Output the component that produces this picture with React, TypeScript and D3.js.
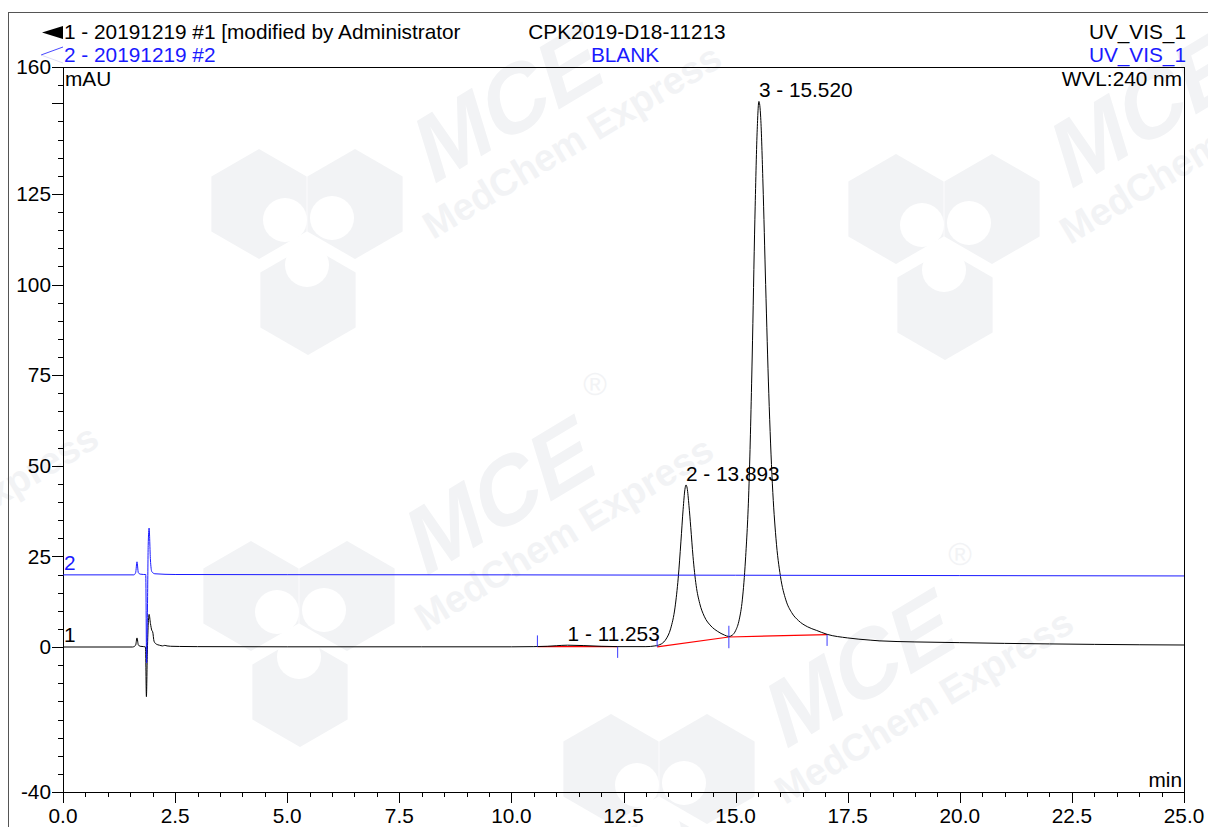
import React from "react";
import * as d3 from "d3";

// ---------- data ----------
const series1Time = [0, 1.55, 1.62, 1.65, 1.68, 1.72, 1.8, 1.84, 1.86, 1.88, 1.9, 1.92, 1.95, 1.98, 2.0, 2.03, 2.08, 2.15, 2.22, 2.27, 2.32, 2.4, 2.6, 3.0, 5.0, 8.0, 10.0, 10.5, 10.8, 11.0, 11.25, 11.6, 12.0, 12.4, 13.0, 13.2, 13.35, 13.45, 13.55, 13.65, 13.72, 13.78, 13.83, 13.87, 13.893, 13.92, 13.96, 14.0, 14.05, 14.12, 14.2, 14.3, 14.45, 14.6, 14.75, 14.85, 14.93, 15.0, 15.08, 15.15, 15.22, 15.3, 15.37, 15.43, 15.48, 15.52, 15.56, 15.61, 15.67, 15.74, 15.82, 15.9, 16.0, 16.12, 16.25, 16.4, 16.6, 16.8, 17.04, 17.5, 18.0, 18.2, 19.0, 20.0, 21.0, 22.0, 23.0, 24.0, 25.0];
const series1Value = [0, 0, 0.5, 2.5, 0.6, 0.2, 0.1, 0, -13.7, -2, 6, 9.0, 6.5, 4.6, 4.2, 1.6, 0.8, 0.5, 0.3, 0.45, 0.3, 0.2, 0.15, 0.1, 0.05, 0.05, 0.05, 0.1, 0.2, 0.35, 0.5, 0.4, 0.2, 0.1, 0.1, 0.3, 0.9, 2.2, 5, 11, 19, 29, 38, 43.5, 44.7, 43.8, 39, 33, 25, 17, 12, 8.5, 5.8, 4.3, 3.3, 2.9, 3.3, 4.5, 7.5, 13, 24, 45, 80, 118, 142, 150.5, 146, 128, 100, 70, 45, 30, 19.5, 13, 9.5, 7.3, 5.6, 4.6, 3.5, 2.5, 1.9, 1.7, 1.4, 1.2, 1.0, 0.85, 0.72, 0.62, 0.55];

const series2Time = [0, 1.58, 1.62, 1.65, 1.68, 1.72, 1.8, 1.845, 1.865, 1.885, 1.9, 1.92, 1.95, 1.98, 2.05, 2.5, 5.0, 10.0, 15.0, 20.0, 25.0];
const series2Value = [19.9, 19.9, 20.5, 23.5, 20.5, 20.1, 20.0, 20.0, -4.4, 12, 28, 32.8, 24, 20.8, 20.2, 20.0, 19.95, 19.9, 19.8, 19.7, 19.6];

const baselineSegments = [
  [[10.58, 0.1], [12.37, 0.1]],
  [[13.25, 0.05], [14.85, 2.76]],
  [[14.85, 2.76], [17.04, 3.4]],
];
const delimiterTime = [10.58, 12.37, 13.25, 14.85, 14.85, 17.04];
const delimiterValue = [0.1, 0.1, 0.05, 2.76, 2.76, 3.4];
const delimiterDir = [1, -1, 1, 1, -1, -1];

const peakLabels = ["1 - 11.253", "2 - 13.893", "3 - 15.520"];
const peakTime = [11.253, 13.893, 15.52];
const peakValue = [0.5, 44.7, 150.5];

const xMajorTicks = [0, 2.5, 5, 7.5, 10, 12.5, 15, 17.5, 20, 22.5, 25];
const xTickLabels = ["0.0", "2.5", "5.0", "7.5", "10.0", "12.5", "15.0", "17.5", "20.0", "22.5", "25.0"];
const yMajorTicks = [160, 150, 125, 100, 75, 50, 25, 0, -40];
const yLabelValues = [160, 125, 100, 75, 50, 25, 0, -40];

const headerLeft1 = "1 - 20191219 #1 [modified by Administrator";
const headerLeft2 = "2 - 20191219 #2";
const headerMid1 = "CPK2019-D18-11213";
const headerMid2 = "BLANK";
const headerRight = "UV_VIS_1";

// ---------- layout ----------
const W = 1208;
const H = 827;
const L = 63, R = 1184, T = 67, B = 792;
const FONT = "'Liberation Sans', Arial, Helvetica, sans-serif";
const FS = 20.8;
const BLUE = "#1a1aff";
const WM = "#f2f3f5";

const x = d3.scaleLinear().domain([0, 25]).range([L, R]);
const y = d3.scaleLinear().domain([-40, 160]).range([B, T]);

const s1: [number, number][] = series1Time.map((t, i) => [t, series1Value[i]]);
const s2: [number, number][] = series2Time.map((t, i) => [t, series2Value[i]]);

function hexPath(cx: number, cy: number, r: number) {
  const pts = d3.range(6).map((k) => {
    const a = (Math.PI / 3) * k - Math.PI / 2;
    return [cx + r * Math.cos(a), cy + r * Math.sin(a)];
  });
  return "M" + pts.map((p) => p.join(",")).join("L") + "Z";
}

function Watermark({ px, py }: { px: number; py: number }) {
  const lx = px - 126;
  const ly = py;
  return (
    <g>
      <path d={hexPath(lx - 48, ly - 36, 55)} fill={WM} />
      <path d={hexPath(lx + 48, ly - 36, 55)} fill={WM} />
      <path d={hexPath(lx + 1, ly + 60, 55)} fill={WM} />
      <circle cx={lx - 22} cy={ly - 20} r={22} fill="#fff" />
      <circle cx={lx + 25} cy={ly - 22} r={22} fill="#fff" />
      <circle cx={lx} cy={ly + 25} r={22} fill="#fff" />
      <g transform={`translate(${px},${py}) rotate(-31)`}>
        <text x={0} y={0} fontFamily={FONT} fontWeight="bold" fontSize={38} fill={WM}>
          MedChem Express
        </text>
        <g transform="skewX(-14)">
          <text x={14} y={-47} fontFamily={FONT} fontWeight="bold" fontSize={92} fill={WM}>
            MCE
          </text>
        </g>
      </g>
    </g>
  );
}

export default function App() {
  const line = d3
    .line<[number, number]>()
    .x((d) => x(d[0]))
    .y((d) => y(d[1]))
    .curve(d3.curveMonotoneX);

  const xMinor = d3.range(0, 25.001, 0.5);
  const yMinor = d3.range(-40, 160.001, 5);

  return (
    <svg
      width={W}
      height={H}
      style={{ position: "absolute", left: 0, top: 0, background: "#fff" }}
      fontFamily={FONT}
    >
      <rect x={0} y={0} width={W} height={H} fill="#fff" />
      {/* watermarks */}
      <Watermark px={433} py={240} />
      <Watermark px={425} py={632} />
      <Watermark px={1070} py={245} />
      <Watermark px={785} py={805} />
      <Watermark px={-190} py={620} />
      <text x={595} y={395} fontSize={32} fill={WM} fontFamily={FONT} textAnchor="middle">®</text>
      <text x={960} y={565} fontSize={32} fill={WM} fontFamily={FONT} textAnchor="middle">®</text>

      {/* outer frame */}
      <line x1={8} y1={12.5} x2={W} y2={12.5} stroke="#555" strokeWidth={1} />
      <line x1={8.5} y1={12} x2={8.5} y2={H} stroke="#555" strokeWidth={1} />

      {/* header */}
      <polygon points="42,32.5 63,26 63,39" fill="#000" />
      <line x1={41} y1={55} x2={63} y2={47} stroke={BLUE} strokeWidth={0.8} />
      <line x1={41} y1={55} x2={63} y2={63} stroke="#c8c8f0" strokeWidth={0.6} />
      <text x={64} y={39} fontSize={FS} fill="#000">{headerLeft1}</text>
      <text x={64} y={62} fontSize={FS} fill={BLUE}>{headerLeft2}</text>
      <text x={627} y={39} fontSize={FS} fill="#000" textAnchor="middle">{headerMid1}</text>
      <text x={625} y={62} fontSize={FS} fill={BLUE} textAnchor="middle">{headerMid2}</text>
      <text x={1186} y={39} fontSize={FS} fill="#000" textAnchor="end">{headerRight}</text>
      <text x={1186} y={62} fontSize={FS} fill={BLUE} textAnchor="end">{headerRight}</text>

      {/* plot frame */}
      <line x1={L} y1={T + 0.5} x2={R} y2={T + 0.5} stroke="#000" strokeWidth={1} />
      <line x1={R + 0.5} y1={T} x2={R + 0.5} y2={B + 11} stroke="#000" strokeWidth={1} />
      <line x1={L + 0.5} y1={T} x2={L + 0.5} y2={B + 11} stroke="#000" strokeWidth={1} />
      <line x1={L} y1={B + 0.5} x2={R} y2={B + 0.5} stroke="#000" strokeWidth={1} />

      {/* y ticks */}
      {yMinor.map((v) => {
        const major = yMajorTicks.includes(v);
        return (
          <line key={"ym" + v} x1={major ? L - 11 : L - 5} x2={L} y1={Math.round(y(v)) + 0.5} y2={Math.round(y(v)) + 0.5} stroke="#000" strokeWidth={1} />
        );
      })}
      {yLabelValues.map((v) => (
        <text key={"yl" + v} x={51} y={y(v)} dy="0.35em" fontSize={FS} textAnchor="end" fill="#000">
          {v}
        </text>
      ))}

      {/* x ticks */}
      {xMinor.map((t) => {
        const major = xMajorTicks.some((m) => Math.abs(m - t) < 1e-6);
        return (
          <line key={"xm" + t} x1={Math.round(x(t)) + 0.5} x2={Math.round(x(t)) + 0.5} y1={B} y2={major ? B + 11 : B + 5} stroke="#000" strokeWidth={1} />
        );
      })}
      {xMajorTicks.map((t, i) => (
        <text key={"xl" + t} x={x(t)} y={823} fontSize={FS} textAnchor="middle" fill="#000">
          {xTickLabels[i]}
        </text>
      ))}

      {/* axis units */}
      <text x={65} y={86} fontSize={FS} fill="#000">mAU</text>
      <text x={1182} y={86} fontSize={FS} fill="#000" textAnchor="end">WVL:240 nm</text>
      <text x={1182} y={787} fontSize={FS} fill="#000" textAnchor="end">min</text>

      {/* series labels */}
      <text x={64} y={570} fontSize={FS} fill={BLUE}>2</text>
      <text x={64} y={642} fontSize={FS} fill="#000">1</text>

      {/* baselines */}
      {baselineSegments.map((seg, i) => (
        <line key={"bl" + i} x1={x(seg[0][0])} y1={y(seg[0][1])} x2={x(seg[1][0])} y2={y(seg[1][1])} stroke="#ff0000" strokeWidth={1.2} />
      ))}

      {/* series 1 */}
      <path d={line(s1) || ""} fill="none" stroke="#000" strokeWidth={1} />
      {/* series 2 */}
      <path d={line(s2) || ""} fill="none" stroke={BLUE} strokeWidth={1} />

      {/* delimiters */}
      {delimiterTime.map((t, i) => (
        <line key={"dl" + i} x1={x(t)} x2={x(t)} y1={y(delimiterValue[i])} y2={y(delimiterValue[i] + 3.1 * delimiterDir[i])} stroke="#3a3aff" strokeWidth={1} />
      ))}

      {/* peak labels */}
      {peakLabels.map((s, i) => (
        <text key={"pl" + i} x={x(peakTime[i])} y={y(peakValue[i]) - 4} fontSize={FS} fill="#000">
          {s}
        </text>
      ))}
    </svg>
  );
}
